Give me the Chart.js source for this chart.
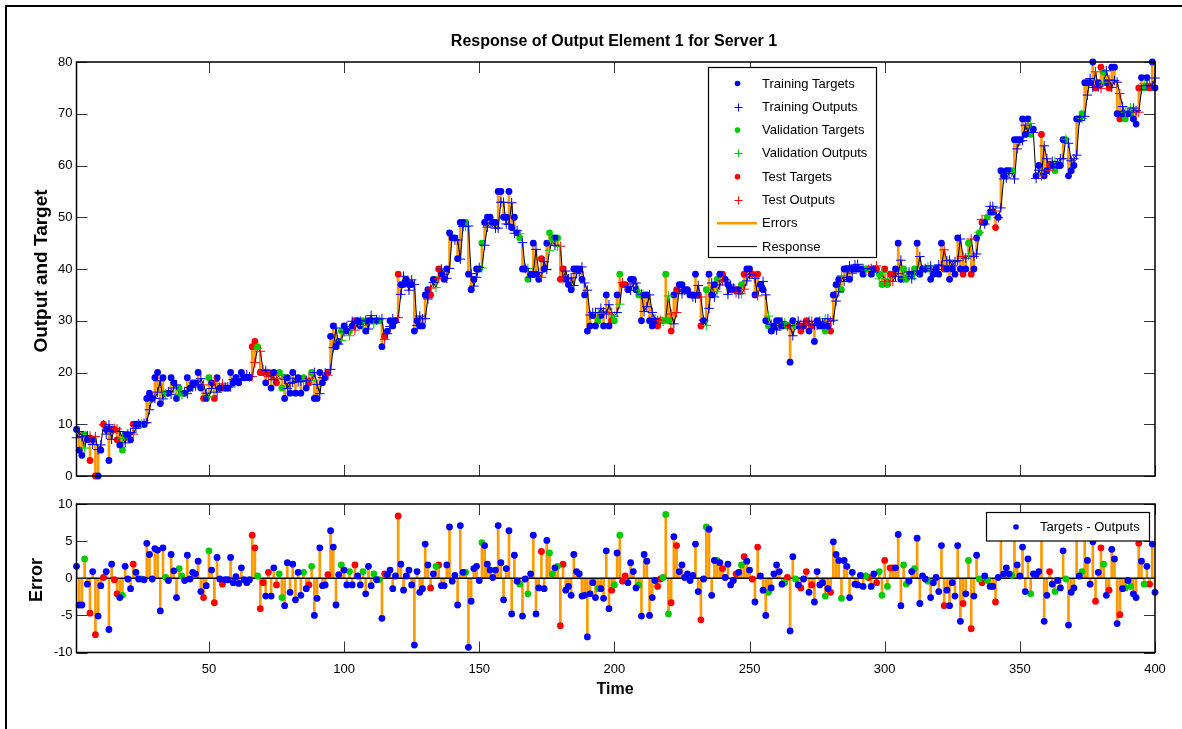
<!DOCTYPE html>
<html>
<head>
<meta charset="utf-8">
<title>Response of Output Element 1 for Server 1</title>
<script src="https://cdn.jsdelivr.net/npm/chart.js@4.4.1/dist/chart.umd.min.js"></script>
<style>
    html, body { margin: 0; padding: 0; background: #fff; }
    #wrap { position: relative; width: 1182px; height: 729px; overflow: hidden; }
    #frame { position: absolute; left: 5px; top: 5px; width: 1200px; height: 760px; border-left: 2px solid #000; border-top: 2px solid #000; }
    canvas { position: absolute; left: 0; }
    #response-chart { top: 0; width: 1182px; height: 490px; }
    #error-chart { top: 490px; width: 1182px; height: 239px; }
</style>
</head>
<body>
<div id="wrap">
    <div id="frame"></div>
    <canvas id="response-chart" width="1182" height="490"></canvas>
    <canvas id="error-chart" width="1182" height="239"></canvas>
</div>
<script>
// targets, one value per time step (1..400)
const targets = [
    9, 5, 4, 8, 7, 3, 7, 0, 0, 5,
    10, 9, 3, 9, 9, 7, 6, 5, 8, 8,
    7, 10, 10, 10, 10, 10, 15, 16, 15, 19,
    20, 14, 19, 16, 16, 19, 18, 15, 17, 16,
    16, 19, 17, 18, 18, 20, 17, 15, 15, 19,
    18, 15, 19, 17, 17, 17, 17, 20, 18, 19,
    18, 20, 19, 19, 19, 25, 26, 25, 20, 20,
    18, 20, 17, 20, 18, 20, 17, 15, 19, 16,
    20, 16, 19, 16, 19, 17, 18, 20, 15, 15,
    20, 18, 19, 20, 27, 29, 25, 26, 28, 29,
    28, 28, 29, 30, 30, 29, 30, 28, 30, 30,
    30, 30, 30, 25, 27, 28, 30, 29, 30, 39,
    37, 37, 38, 37, 37, 28, 30, 29, 29, 35,
    36, 35, 38, 38, 40, 39, 38, 40, 47, 46,
    46, 42, 49, 49, 49, 39, 36, 38, 40, 40,
    45, 49, 50, 50, 49, 49, 55, 55, 50, 50,
    55, 48, 50, 47, 46, 40, 40, 38, 39, 45,
    39, 38, 42, 40, 45, 47, 46, 46, 46, 38,
    40, 38, 37, 36, 40, 40, 40, 38, 35, 28,
    29, 31, 29, 30, 31, 29, 35, 29, 30, 30,
    35, 39, 37, 37, 36, 38, 38, 36, 35, 30,
    35, 35, 30, 29, 30, 29, 30, 30, 39, 30,
    28, 35, 36, 37, 37, 36, 36, 35, 35, 39,
    35, 29, 30, 36, 39, 35, 37, 38, 39, 39,
    38, 37, 36, 36, 36, 36, 37, 39, 40, 40,
    39, 35, 39, 37, 36, 30, 29, 28, 29, 30,
    30, 29, 29, 29, 22, 30, 29, 29, 28, 29,
    30, 28, 29, 26, 30, 29, 29, 28, 29, 28,
    35, 37, 38, 36, 40, 40, 38, 40, 40, 40,
    40, 39, 40, 40, 39, 40, 40, 39, 37, 40,
    37, 39, 39, 40, 45, 38, 40, 38, 39, 39,
    40, 45, 39, 40, 40, 40, 38, 39, 40, 39,
    45, 40, 40, 38, 40, 39, 46, 40, 39, 40,
    45, 39, 40, 46, 47, 49, 49, 50, 51, 51,
    48, 50, 59, 58, 59, 59, 59, 65, 65, 65,
    69, 66, 69, 66, 67, 58, 60, 66, 58, 59,
    60, 60, 59, 60, 60, 65, 65, 58, 59, 60,
    69, 69, 70, 76, 76, 76, 80, 75, 76, 79,
    78, 76, 75, 79, 79, 70, 69, 70, 69, 70,
    70, 69, 68, 75, 77, 75, 77, 75, 80, 75
];

// targets - outputs
const errors = [
    1.6, -3.6, -3.6, 2.6, -0.8, -4.7, 0.9, -7.6, -5.1, -1.0,
    0.1, 0.9, -6.9, 1.9, -0.2, -2.1, -2.6, -2.3, 1.6, -0.1,
    -1.4, 1.9, 0.8, -0.1, -0.1, -0.2, 4.7, 3.2, -0.1, 4.0,
    3.8, -4.4, 4.1, 0.1, -0.3, 3.2, 1.0, -2.6, 1.3, 0.3,
    -0.3, 3.1, -0.1, 0.8, 0.6, 2.3, -1.8, -2.6, -1.0, 3.7,
    1.1, -3.3, 2.8, -0.1, -0.8, -0.2, -0.2, 2.8, -0.6, 0.2,
    -0.7, 1.4, -0.2, -0.6, -0.2, 5.8, 4.1, 0.3, -4.1, -0.6,
    -2.4, 0.8, -2.4, 1.4, -0.9, 0.6, -2.6, -3.7, 2.1, -1.9,
    1.9, -2.9, 0.8, -2.3, 0.8, -1.4, -0.9, 1.6, -5.0, -2.7,
    4.1, -1.0, -0.9, 0.5, 6.4, 4.2, -3.6, 0.5, 1.8, 1.1,
    -0.9, 0.9, -0.9, 1.8, 0.3, -0.9, 0.9, -2.1, 1.6, -1.0,
    0.6, -0.2, -0.2, -5.4, 0.6, 0.5, 1.1, -1.4, 0.3, 8.4,
    1.9, -1.6, 0.3, 1.1, -0.9, -9.0, 0.9, -1.9, -1.4, 4.6,
    1.8, -1.3, 0.6, 1.6, 1.8, -1.0, -1.0, 1.8, 6.9, -0.4,
    0.4, -3.6, 7.1, 0.8, 0.8, -9.3, -3.1, 1.3, 1.6, -0.3,
    4.8, 4.4, 1.9, 1.1, 0.1, 1.1, 7.1, 2.1, -2.9, 1.3,
    6.4, -4.8, 3.1, -0.4, -0.8, -5.1, -0.1, -2.1, 0.6, 5.8,
    -4.8, -1.3, 3.6, -1.4, 5.1, 3.4, 0.6, 1.4, 1.6, -6.4,
    1.9, -1.6, -1.1, -2.3, 3.2, 0.9, 0.6, -2.4, -2.3, -7.9,
    -2.1, -0.6, -2.6, -1.4, -1.4, -2.7, 3.7, -4.1, -1.6, -0.9,
    3.4, 5.8, -0.4, 0.3, -0.6, 2.1, 0.9, -1.3, -0.9, -5.1,
    3.2, 2.3, -5.0, -2.6, -0.3, -1.1, -0.1, 0.1, 8.6, -4.8,
    -3.3, 5.6, 4.4, 0.9, 1.8, 0.1, 0.6, -0.3, 0.4, 4.6,
    -1.8, -5.6, -0.1, 6.9, 6.6, -2.3, 2.4, 2.4, 2.1, 1.3,
    0.1, 1.9, -0.9, -0.3, 0.6, 0.8, 1.8, 2.9, 2.3, 1.1,
    -0.1, -3.2, 4.2, 0.3, -1.6, -5.0, -1.9, -1.3, 0.6, 1.8,
    0.9, -0.8, -0.6, 0.1, -7.1, 2.9, -0.1, -0.9, -1.3, -0.1,
    0.9, -1.9, -0.9, -3.2, 0.9, -0.9, -0.6, -2.4, -1.4, -1.9,
    4.9, 3.2, 2.4, -2.7, 2.4, 1.6, -2.6, 0.8, -0.8, -0.9,
    0.4, -1.1, 0.3, 0.1, -1.1, 0.6, -0.6, 0.9, -2.3, 2.4,
    -1.1, 1.4, 1.4, 1.4, 5.9, -3.7, 1.8, -0.8, -0.4, 0.9,
    1.3, 5.4, -3.4, 0.3, -0.1, -0.4, -2.6, -0.6, 0.1, -1.8,
    4.4, -3.7, -1.6, -3.7, -0.6, -2.4, 4.4, -5.8, -3.4, -2.1,
    2.4, -6.8, -2.4, 3.1, -0.1, -0.6, 0.3, -0.3, -1.1, -1.1,
    -3.2, 0.1, 7.2, 0.6, 1.4, 0.6, 0.4, 7.6, 1.8, 0.3,
    4.2, -1.8, 2.6, -2.1, 0.6, 0.5, 0.9, 8.0, -5.8, -2.3,
    0.9, -0.8, -1.8, -0.3, -1.3, 3.7, -0.1, -6.3, -1.9, -1.3,
    7.0, 0.3, 0.9, 6.5, 2.4, -0.8, 4.9, -3.1, 0.8, 4.1,
    1.9, -2.3, -1.6, 3.9, 2.6, -6.1, -4.9, -1.4, -1.3, -0.3,
    -1.1, -2.1, -2.6, 4.7, 2.3, -0.8, 1.6, -0.8, 4.6, -1.9
];

// time steps that belong to the validation and test sets (the rest are training)
const valSteps = [
    4, 18, 25, 34, 39, 40, 50, 68, 76, 77, 85, 88, 99,
    102, 107, 111, 113, 134, 145, 151, 165, 168, 176, 177, 179, 194, 200,
    202, 209, 218, 219, 220, 234, 238, 247, 257, 263, 267, 278, 284, 293, 298, 299,
    301, 307, 308, 311, 316, 331, 335, 338, 347, 354, 363, 367, 373, 381, 389, 391, 396
];
const testSteps = [
    6, 8, 11, 15, 16, 22, 48, 52, 55, 66, 67, 69, 70, 72, 75, 87, 94,
    104, 115, 120, 132, 135, 173, 180, 181, 199,
    203, 204, 216, 217, 221, 223, 232, 240, 245, 248, 251, 253, 264, 269, 271, 273, 280, 294, 297, 300,
    302, 303, 322, 329, 332, 336, 341, 358, 361, 378, 380, 383, 387, 394, 398
];

const xTicks = [50, 100, 150, 200, 250, 300, 350, 400];
const responseTicks = [0, 10, 20, 30, 40, 50, 60, 70, 80];
const errorTicks = [-10, -5, 0, 5, 10];

const FONT = "'Liberation Sans', Arial, sans-serif";
const BLUE = "#0000ff";
const GREEN = "#00cc00";
const RED = "#ff0000";
const ORANGE = "#ff9900";

Chart.defaults.font.family = FONT;
Chart.defaults.font.size = 13;
Chart.defaults.color = "#000";

const steps = targets.map((_, i) => i + 1);
const outputs = targets.map((v, i) => +(v - errors[i]).toFixed(2));
const groupOf = (t) => (valSteps.includes(t) ? "val" : testSteps.includes(t) ? "test" : "train");
const pick = (group, values) => steps.filter((t) => groupOf(t) === group).map((t) => ({ x: t, y: values[t - 1] }));

function dot(ctx, x, y, r, color) {
    ctx.fillStyle = color;
    ctx.beginPath();
    ctx.arc(x, y, r, 0, Math.PI * 2);
    ctx.fill();
}

function plus(ctx, x, y, r, color) {
    x = Math.round(x) + 0.5;
    y = Math.round(y) + 0.5;
    ctx.strokeStyle = color;
    ctx.lineWidth = 1;
    ctx.beginPath();
    ctx.moveTo(x - r, y); ctx.lineTo(x + r, y);
    ctx.moveTo(x, y - r); ctx.lineTo(x, y + r);
    ctx.stroke();
}

// MATLAB style box: inward ticks on all four sides, legend box, then frame and labels
function matlabAxes(opts) {
    return {
        id: "matlabAxes",
        afterDatasetDraw(chart, args) {
            if (!opts.zeroLine || args.index !== 0) return;
            const { ctx, chartArea: a, scales: { y } } = chart;
            const py = y.getPixelForValue(0);
            ctx.save();
            ctx.strokeStyle = "#000";
            ctx.lineWidth = 1.3;
            ctx.beginPath();
            ctx.moveTo(a.left, py);
            ctx.lineTo(a.right, py);
            ctx.stroke();
            ctx.restore();
        },
        afterDraw(chart) {
            const { ctx, chartArea: a, scales: { x, y } } = chart;
            ctx.save();
            ctx.strokeStyle = "#333";
            ctx.lineWidth = 1;
            ctx.beginPath();
            x.ticks.forEach((tk) => {
                const px = Math.round(x.getPixelForValue(tk.value)) + 0.5;
                ctx.moveTo(px, a.bottom); ctx.lineTo(px, a.bottom - 11);
                ctx.moveTo(px, a.top); ctx.lineTo(px, a.top + 11);
            });
            y.ticks.forEach((tk) => {
                const py = Math.round(y.getPixelForValue(tk.value)) + 0.5;
                ctx.moveTo(a.left, py); ctx.lineTo(a.left + 11, py);
                ctx.moveTo(a.right, py); ctx.lineTo(a.right - 11, py);
            });
            ctx.stroke();

            opts.legend(ctx);

            ctx.strokeStyle = "#000";
            ctx.lineWidth = 1.5;
            ctx.strokeRect(a.left, a.top, a.right - a.left, a.bottom - a.top);

            ctx.fillStyle = "#000";
            opts.labels(ctx);
            ctx.restore();
        }
    };
}

function legendBox(ctx, x, y, w, h) {
    ctx.fillStyle = "#fff";
    ctx.fillRect(x, y, w, h);
    ctx.strokeStyle = "#000";
    ctx.lineWidth = 1.2;
    ctx.strokeRect(x, y, w, h);
}

function verticalText(ctx, text, x, y, font) {
    ctx.save();
    ctx.translate(x, y);
    ctx.rotate(-Math.PI / 2);
    ctx.font = font;
    ctx.textAlign = "center";
    ctx.textBaseline = "middle";
    ctx.fillText(text, 0, 0);
    ctx.restore();
}

const responseLegend = [
    { label: "Training Targets", kind: "dot", color: BLUE },
    { label: "Training Outputs", kind: "plus", color: BLUE },
    { label: "Validation Targets", kind: "dot", color: GREEN },
    { label: "Validation Outputs", kind: "plus", color: GREEN },
    { label: "Test Targets", kind: "dot", color: RED },
    { label: "Test Outputs", kind: "plus", color: RED },
    { label: "Errors", kind: "line", color: ORANGE, width: 2.5 },
    { label: "Response", kind: "line", color: "#000", width: 1 }
];

const responsePlugin = matlabAxes({
    legend(ctx) {
        legendBox(ctx, 708.5, 67.5, 168, 190);
        ctx.font = `13px ${FONT}`;
        ctx.textBaseline = "middle";
        ctx.textAlign = "left";
        responseLegend.forEach((item, i) => {
            const ly = 83.5 + i * 23.3;
            if (item.kind === "dot") dot(ctx, 737.5, ly, 2.8, item.color);
            else if (item.kind === "plus") plus(ctx, 737.5, ly, 4, item.color);
            else {
                ctx.strokeStyle = item.color;
                ctx.lineWidth = item.width;
                ctx.beginPath();
                ctx.moveTo(717, ly); ctx.lineTo(757, ly);
                ctx.stroke();
            }
            ctx.fillStyle = "#000";
            ctx.fillText(item.label, 762, ly + 0.5);
        });
    },
    labels(ctx) {
        ctx.font = `bold 16px ${FONT}`;
        ctx.textAlign = "center";
        ctx.textBaseline = "middle";
        ctx.fillText("Response of Output Element 1 for Server 1", 614, 42);
        verticalText(ctx, "Output and Target", 42, 271, `bold 19px ${FONT}`);
    }
});

const errorPlugin = matlabAxes({
    zeroLine: true,
    legend(ctx) {
        legendBox(ctx, 986.5, 22.5, 163, 28.5);
        dot(ctx, 1016, 37, 2.8, BLUE);
        ctx.fillStyle = "#000";
        ctx.font = `13px ${FONT}`;
        ctx.textAlign = "left";
        ctx.textBaseline = "middle";
        ctx.fillText("Targets - Outputs", 1040, 37.5);
    },
    labels(ctx) {
        verticalText(ctx, "Error", 37, 90, `bold 18px ${FONT}`);
        ctx.font = `bold 16px ${FONT}`;
        ctx.textAlign = "center";
        ctx.textBaseline = "middle";
        ctx.fillText("Time", 615, 200);
    }
});

function xScale(showLabels, height) {
    return {
        type: "linear",
        min: 1,
        max: 400,
        offset: false,
        afterBuildTicks: (s) => { s.ticks = xTicks.map((v) => ({ value: v })); },
        afterFit: (s) => { s.height = height; },
        ticks: { display: showLabels, padding: 9, maxRotation: 0, autoSkip: false, font: { size: 13 } },
        grid: { display: false, drawTicks: false, offset: false },
        border: { display: false }
    };
}

function yScale(min, max, tickValues) {
    return {
        type: "linear",
        min,
        max,
        afterBuildTicks: (s) => { s.ticks = tickValues.map((v) => ({ value: v })); },
        afterFit: (s) => { s.width = 76.5; },
        ticks: { padding: 4, font: { size: 13 } },
        grid: { display: false, drawTicks: false },
        border: { display: false }
    };
}

const baseOptions = {
    responsive: false,
    animation: false,
    devicePixelRatio: 1,
    events: [],
    plugins: { legend: { display: false }, tooltip: { enabled: false } }
};

const targetSet = (group, color) => ({
    data: pick(group, targets), pointStyle: "circle", pointRadius: 3.4,
    backgroundColor: color, borderWidth: 0, clip: false, order: 3
});
const outputSet = (group, color) => ({
    data: pick(group, outputs), pointStyle: "cross", pointRadius: 4.8,
    borderColor: color, borderWidth: 1, clip: false, order: 2
});

new Chart(document.getElementById("response-chart"), {
    type: "scatter",
    data: {
        datasets: [
            {
                type: "bar",
                data: steps.map((t) => ({ x: t, y: [outputs[t - 1], targets[t - 1]] })),
                backgroundColor: ORANGE, barThickness: 2, grouped: false, order: 10
            },
            {
                type: "line",
                data: steps.map((t) => ({ x: t, y: outputs[t - 1] })),
                borderColor: "#000", borderWidth: 1, pointRadius: 0, tension: 0, order: 8
            },
            targetSet("train", BLUE),
            outputSet("train", BLUE),
            targetSet("val", GREEN),
            outputSet("val", GREEN),
            targetSet("test", RED),
            outputSet("test", RED)
        ]
    },
    options: {
        ...baseOptions,
        layout: { padding: { left: 0, right: 27, top: 62, bottom: 0 } },
        scales: { x: xScale(false, 14), y: yScale(0, 80, responseTicks) }
    },
    plugins: [responsePlugin]
});

const errorDots = (group, color) => ({
    data: pick(group, errors), pointStyle: "circle", pointRadius: 3.4,
    backgroundColor: color, borderWidth: 0, clip: false, order: 2
});

new Chart(document.getElementById("error-chart"), {
    type: "scatter",
    data: {
        datasets: [
            {
                type: "bar",
                data: steps.map((t) => ({ x: t, y: errors[t - 1] })),
                backgroundColor: ORANGE, barThickness: 2, grouped: false, order: 10
            },
            errorDots("train", BLUE),
            errorDots("val", GREEN),
            errorDots("test", RED)
        ]
    },
    options: {
        ...baseOptions,
        layout: { padding: { left: 0, right: 27, top: 14, bottom: 0 } },
        scales: { x: xScale(true, 76.5), y: yScale(-10, 10, errorTicks) }
    },
    plugins: [errorPlugin]
});
</script>
</body>
</html>
